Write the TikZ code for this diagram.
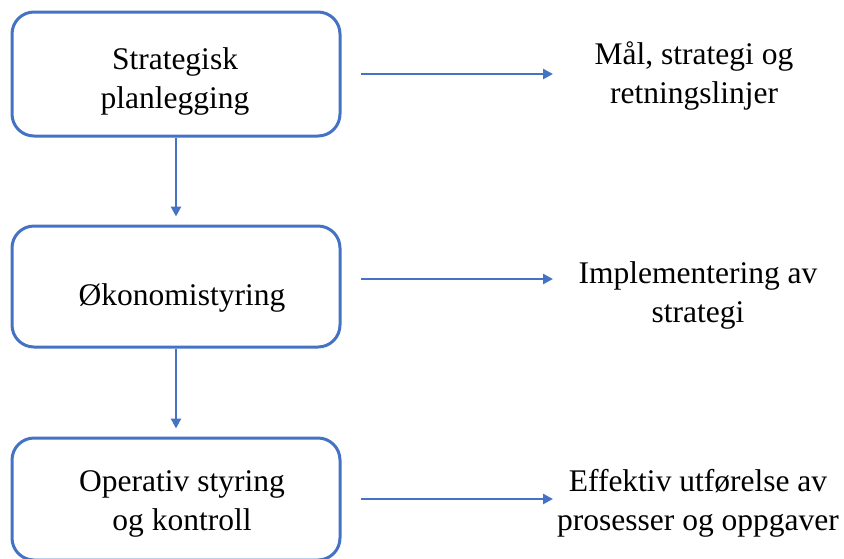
\documentclass[tikz,border=0pt]{standalone}
\usepackage{fontspec}
\setmainfont{Liberation Serif}
\usetikzlibrary{arrows.meta}
\definecolor{edge}{HTML}{4472C4}
\begin{document}
\begin{tikzpicture}[x=1pt,y=-1pt,
  stage/.style={draw=edge, line width=3pt, rounded corners=22pt,
    minimum width=328pt, inner sep=0pt},
  caption/.style={font=\fontsize{31.5}{39}\selectfont, align=center,
    anchor=base, inner sep=0pt},
  flow/.style={draw=edge, line width=2.5pt, -{Triangle[length=10pt,width=10pt]}}]
\useasboundingbox (0,0) rectangle (844,558);
\clip (0,0) rectangle (844,558);

% stage boxes
\node[stage, minimum height=124pt] (b1) at (176,74) {};
\node[stage, minimum height=121pt] (b2) at (176,286.5) {};
\node[stage, minimum height=122pt] (b3) at (176,499) {};

% box texts (placed at the baseline of their last line)
\node[caption] (t1) at (175,108) {Strategisk\\planlegging};
\node[caption] (t2) at (182,305) {Økonomistyring};
\node[caption] (t3) at (182,530) {Operativ styring\\og kontroll};

% outcome texts
\node[caption] (r1) at (694,103) {Mål, strategi og\\retningslinjer};
\node[caption] (r2) at (698,322) {Implementering av\\strategi};
\node[caption] (r3) at (698,530) {Effektiv utførelse av\\prosesser og oppgaver};

% arrow ends
\coordinate (s1) at (361,74);  \coordinate (e1) at (553,74);
\coordinate (s2) at (361,279); \coordinate (e2) at (553,279);
\coordinate (s3) at (361,499); \coordinate (e3) at (553,499);

% connectors
\draw[flow, shorten >=8pt] (b1) -- (b2);
\draw[flow, shorten >=8pt] (b2) -- (b3);
\draw[flow] (s1) -- (e1);
\draw[flow] (s2) -- (e2);
\draw[flow] (s3) -- (e3);
\end{tikzpicture}
\end{document}
